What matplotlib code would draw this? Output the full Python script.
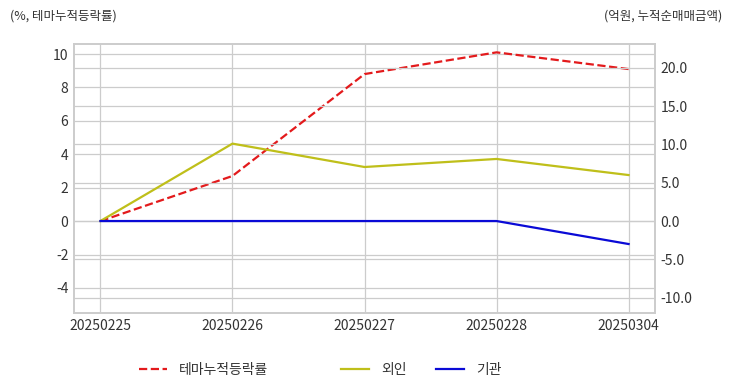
import matplotlib
matplotlib.use("Agg")
import matplotlib.pyplot as plt

plt.rcParams['font.family'] = ['Noto Sans CJK KR', 'DejaVu Sans']
plt.rcParams['axes.unicode_minus'] = False

dates = ["20250225", "20250226", "20250227", "20250228", "20250304"]
theme_rate = [0.0, 2.7, 8.8, 10.1, 9.1]
foreign = [0.0, 10.1, 7.05, 8.1, 6.0]
institution = [0.0, 0.0, 0.0, 0.0, -3.0]

fig = plt.figure(figsize=(7.32, 3.92), dpi=100)
ax = fig.add_axes([74/732, 1-313/392, (655-74)/732, (313-44)/392])
ax2 = ax.twinx()

x = list(range(len(dates)))
grid_c = '#cccccc'
text_c = '#333333'

l1, = ax.plot(x, theme_rate, color='#e31a1c', linestyle='--', linewidth=1.6, label='테마누적등락률', zorder=3)
l2, = ax2.plot(x, foreign, color='#bfbf1a', linewidth=1.6, label='외인', zorder=3)
l3, = ax2.plot(x, institution, color='#0a0ad6', linewidth=1.6, label='기관', zorder=3)

ax.set_xlim(-0.2, 4.2)
ax.set_ylim(-5.5, 10.6)
ax2.set_ylim(-12.0, 23.1)
ax.set_xticks(x)
ax.set_xticklabels(dates)
ax.set_yticks([-4, -2, 0, 2, 4, 6, 8, 10])
ax2.set_yticks([-10, -5, 0, 5, 10, 15, 20])
ax2.set_yticklabels([f"{v:.1f}" for v in [-10, -5, 0, 5, 10, 15, 20]])

for a in (ax, ax2):
    a.grid(True, color=grid_c, linewidth=0.9)
    a.set_axisbelow(True)
    for s in a.spines.values():
        s.set_color(grid_c)
        s.set_linewidth(1.2)
    a.tick_params(length=0, labelsize=10, colors=text_c, pad=4)
ax2.grid(True, axis='y', color=grid_c, linewidth=0.9)
ax2.grid(False, axis='x')

fig.text(10/732, 1-16/392, '(%, 테마누적등락률)', fontsize=9, color=text_c, va='center', ha='left')
fig.text(722/732, 1-16/392, '(억원, 누적순매매금액)', fontsize=9, color=text_c, va='center', ha='right')

leg_kw = dict(frameon=False, fontsize=10, handlelength=2.0, handletextpad=0.9,
              borderpad=0, borderaxespad=0, labelcolor=text_c, loc='center left')
leg1 = fig.legend(handles=[l1], bbox_to_anchor=(139/732, 1-370/392), **leg_kw)
leg2 = fig.legend(handles=[l2, l3], bbox_to_anchor=(341/732, 1-370/392), ncol=2,
                  columnspacing=2.1, **leg_kw)

fig.savefig('out.png', dpi=100)
